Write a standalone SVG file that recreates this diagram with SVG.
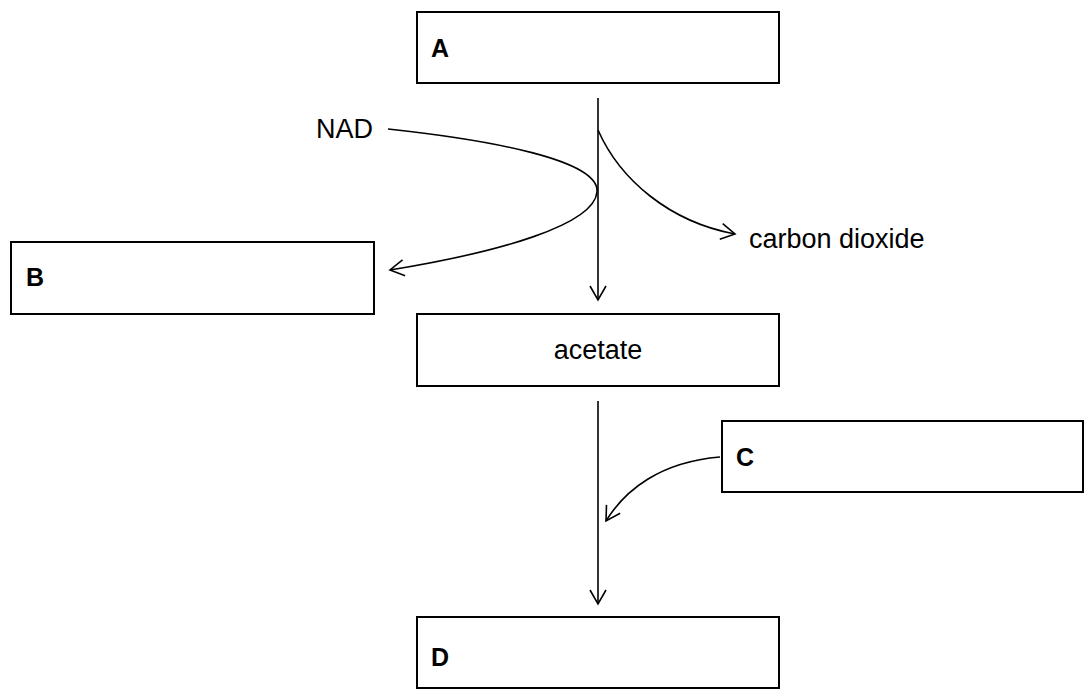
<svg xmlns="http://www.w3.org/2000/svg" width="1085" height="690" viewBox="0 0 1085 690">
<defs>
<style>
.box{fill:#fff;stroke:#000;stroke-width:2}
.lbl{font-family:"Liberation Sans",Arial,sans-serif;font-size:25px;font-weight:bold;fill:#000}
.txt{font-family:"Liberation Sans",Arial,sans-serif;font-size:27px;fill:#000}
.ln{fill:none;stroke:#000;stroke-width:1.6}
</style>
<marker id="arr" viewBox="0 0 20 20" refX="16" refY="10" markerWidth="20" markerHeight="20" markerUnits="userSpaceOnUse" orient="auto">
<path d="M2 2 L16 10 L2 18" fill="none" stroke="#000" stroke-width="1.6"/>
</marker>
</defs>
<rect width="1085" height="690" fill="#fff"/>
<g id="connectors">
<line class="ln" x1="598" y1="98" x2="598" y2="300" marker-end="url(#arr)"/>
<line class="ln" x1="598" y1="401" x2="598" y2="604" marker-end="url(#arr)"/>
<path class="ln" d="M388 129 C490 140 600 160 597 192 C594 225 500 252 390 270" marker-end="url(#arr)"/>
<path class="ln" d="M598 130 C620 180 670 222 735 234" marker-end="url(#arr)"/>
<path class="ln" d="M720 457 C660 462 625 490 606 521" marker-end="url(#arr)"/>
</g>
<g id="nodeA"><rect class="box" x="417" y="12" width="362" height="71"/><text class="lbl" x="431" y="57">A</text></g>
<g id="nodeB"><rect class="box" x="11" y="242" width="363" height="72"/><text class="lbl" x="26" y="286">B</text></g>
<g id="nodeAcetate"><rect class="box" x="417" y="314" width="362" height="72"/><text class="txt" x="598" y="359" text-anchor="middle">acetate</text></g>
<g id="nodeC"><rect class="box" x="722" y="421" width="361" height="71"/><text class="lbl" x="736" y="466">C</text></g>
<g id="nodeD"><rect class="box" x="417" y="617" width="362" height="71"/><text class="lbl" x="431" y="666">D</text></g>
<g id="labelNAD"><text class="txt" x="316" y="138">NAD</text></g>
<g id="labelCO2"><text class="txt" x="749" y="248">carbon dioxide</text></g>
</svg>
